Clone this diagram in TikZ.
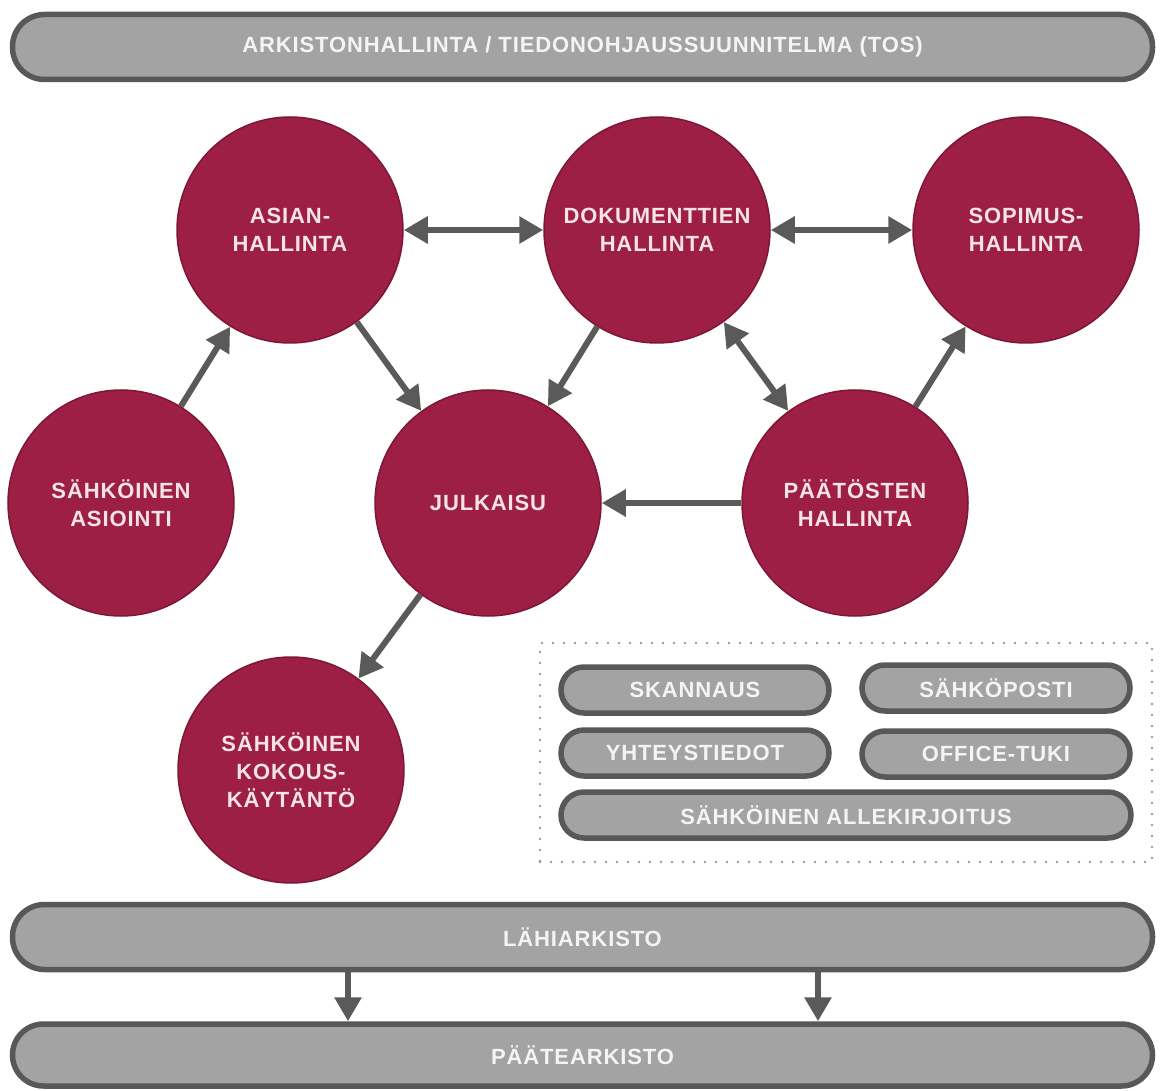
\documentclass[tikz,border=0pt]{standalone}
\usepackage{fontspec}
\setmainfont[LetterSpace=4]{Liberation Sans}
\usetikzlibrary{positioning, arrows.meta}

\definecolor{crim}{HTML}{9E1F46}
\definecolor{crimline}{HTML}{7E1736}
\definecolor{crimtext}{HTML}{F6E4EA}
\definecolor{pillfill}{HTML}{A3A3A3}
\definecolor{pillline}{HTML}{585858}
\definecolor{pilltext}{HTML}{F4F4F4}
\definecolor{arrgray}{HTML}{5A5A5A}
\definecolor{dotgray}{HTML}{9A9A9A}

\tikzset{
	proc/.style={circle, minimum size=226pt, inner sep=0pt, fill=crim, draw=crimline,
		line width=1.5pt, text=crimtext, align=center,
		font=\fontsize{22}{28}\selectfont\bfseries},
	pill/.style={rectangle, inner sep=0pt, fill=pillfill, draw=pillline, line width=5.5pt,
		text=pilltext, font=\fontsize{22}{26}\selectfont\bfseries},
	tool/.style={pill, minimum width=268pt, minimum height=46pt, rounded corners=23pt},
	flow/.style={draw=arrgray, line width=6pt, -{Triangle[length=24pt,width=26pt]}},
	both/.style={flow, {Triangle[length=24pt,width=26pt]}-{Triangle[length=24pt,width=26pt]}}
}

\begin{document}
\begin{tikzpicture}[x=1pt, y=-1pt]
	\useasboundingbox (0,0) rectangle (1163,1091);
	\node[pill, minimum width=1140pt, minimum height=65pt, rounded corners=32pt] (tos) at (582.5, 47) {ARKISTONHALLINTA / TIEDONOHJAUSSUUNNITELMA (TOS)};

	\node[proc] (asian) at (290, 230) {ASIAN-\\HALLINTA};
	\node[proc] (dok) at (657, 230) {DOKUMENTTIEN\\HALLINTA};
	\node[proc] (sop) at (1026, 230) {SOPIMUS-\\HALLINTA};
	\node[proc] (asioi) at (121, 503) {SÄHKÖINEN\\ASIOINTI};
	\node[proc] (julk) at (488, 503) {JULKAISU};
	\node[proc] (paat) at (855, 503) {PÄÄTÖSTEN\\HALLINTA};
	\node[proc] (kokous) at (291, 770) {SÄHKÖINEN\\KOKOUS-\\KÄYTÄNTÖ};

	\draw  (asioi) edge[flow] (asian)
		   (asian) edge[both] (dok)
		   (dok) edge[both] (sop)
		   (asian) edge[flow] (julk)
		   (dok) edge[flow] (julk)
		   (dok) edge[both] (paat)
		   (paat) edge[flow] (sop)
		   (paat) edge[flow] (julk)
		   (julk) edge[flow] (kokous);

	\node[draw=dotgray, line width=2.6pt, dash pattern=on 0pt off 11pt, line cap=round,
		minimum width=612pt, minimum height=219pt] (tools) at (846, 752.5) {};
	\node[tool] (skan) at (695, 690) {SKANNAUS};
	\node[tool] (posti) at (996, 688) {SÄHKÖPOSTI};
	\node[tool] (yht) at (695, 753) {YHTEYSTIEDOT};
	\node[tool] (office) at (996, 754) {OFFICE-TUKI};
	\node[tool, minimum width=570pt] (allek) at (846, 815) {SÄHKÖINEN ALLEKIRJOITUS};

	\node[pill, minimum width=1140pt, minimum height=65pt, rounded corners=32pt] (lahi) at (582.5, 937) {LÄHIARKISTO};
	\node[pill, minimum width=1140pt, minimum height=62pt, rounded corners=31pt] (paate) at (582.5, 1055) {PÄÄTEARKISTO};

	\coordinate (v1) at (348, 0);
	\coordinate (v2) at (818, 0);
	\draw  (lahi.south -| v1) edge[flow] (paate.north -| v1)
		   (lahi.south -| v2) edge[flow] (paate.north -| v2);
\end{tikzpicture}
\end{document}
